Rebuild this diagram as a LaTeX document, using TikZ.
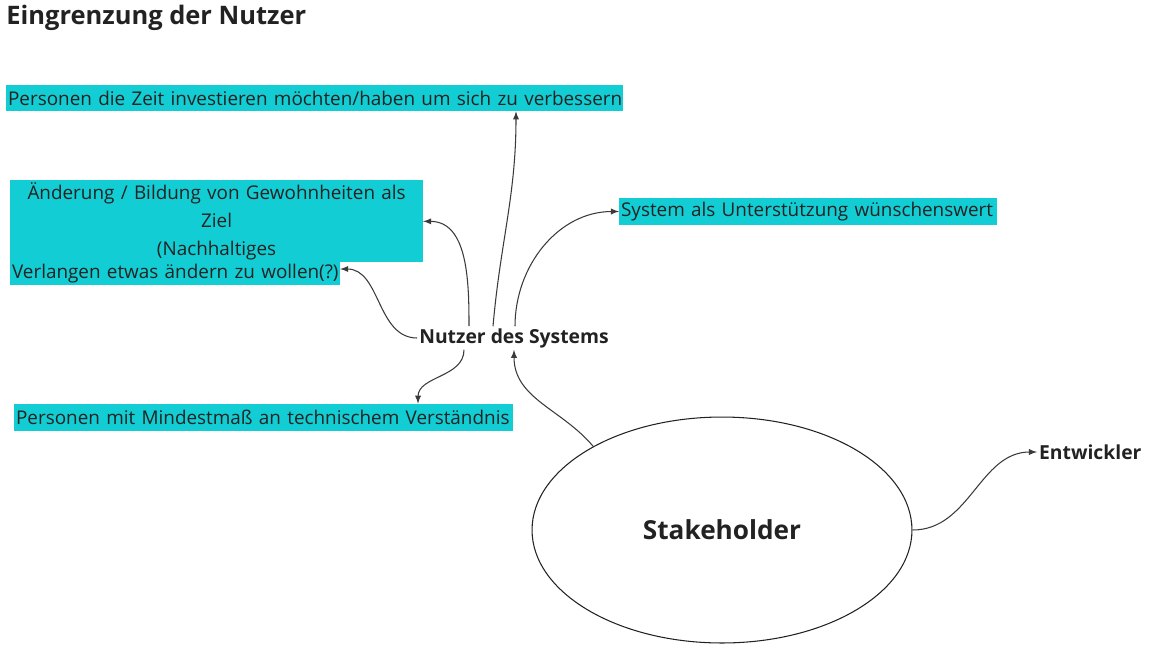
\documentclass[tikz,border=0pt]{standalone}
\usepackage{fontspec}
\setmainfont{Open Sans}
\usetikzlibrary{shapes.geometric}
\definecolor{tagcyan}{HTML}{12CDD4}
\definecolor{inkgray}{HTML}{222222}
\definecolor{linegray}{HTML}{3A3A3A}

\begin{document}
\begin{tikzpicture}[x=0.02cm, y=-0.02cm,
    tag/.style={fill=tagcyan, inner xsep=1pt, inner ysep=0pt, align=left, anchor=west,
      text=inkgray, font=\fontsize{10.75}{13}\selectfont},
    who/.style={text=inkgray, inner sep=1pt, font=\fontsize{11}{13}\selectfont\bfseries},
    link/.style={->, >=latex, draw=linegray, line width=0.6pt}]
  \useasboundingbox (0,0) rectangle (1154,654);

  \def \boxfont {\fontsize{10.75}{15.9}\selectfont}

  % title
  \node[anchor=west, inner sep=0pt, text=inkgray, font=\fontsize{14.5}{17}\selectfont\bfseries]
    (title) at (6,18) {Eingrenzung der Nutzer};

  % cyan notes
  \node[tag, text width=12.26cm, minimum height=0.52cm] (zeit) at (6,98)
    {\mbox{Personen die Zeit investieren möchten/haben um sich zu verbessern}};
  \node[tag, anchor=north west, align=center, text width=8.18cm, minimum height=1.64cm, font=\boxfont]
    (ziel) at (10,180) {Änderung / Bildung von Gewohnheiten als\\ Ziel\\ (Nachhaltiges};
  \node[tag, text width=6.52cm, minimum height=0.46cm] (verlangen) at (10,273.5)
    {\mbox{Verlangen etwas ändern zu wollen(?)}};
  \node[tag, text width=7.48cm, minimum height=0.54cm] (wunsch) at (619,211.5)
    {\mbox{System als Unterstützung wünschenswert}};
  \node[tag, text width=9.9cm, minimum height=0.54cm] (technik) at (14,417.5)
    {\mbox{Personen mit Mindestmaß an technischem Verständnis}};

  % people
  \node[who] (nutzer) at (514,338) {Nutzer des Systems};
  \node[ellipse, draw=inkgray, line width=0.6pt, minimum width=7.6cm, minimum height=4.52cm,
    text=inkgray, font=\fontsize{14.9}{17}\selectfont\bfseries] (stake) at (722,530) {Stakeholder};
  \node[who, anchor=west] (dev) at (1037,452) {Entwickler};

  % connectors
  \draw[link] ([xshift=-0.42cm]nutzer.north) to[out=85, in=-90] ([xshift=4.03cm]zeit.south);
  \draw[link] ([xshift=-0.9cm]nutzer.north) to[out=90, in=0] (ziel.east);
  \draw[link] (nutzer.west) to[out=180, in=0] ([yshift=0.09cm]verlangen.east);
  \draw[link] ([xshift=0.02cm]nutzer.north) to[out=90, in=180] (wunsch.west);
  \draw[link] ([xshift=-1cm]nutzer.south) to[out=-90, in=90] ([xshift=3.09cm]technik.north);
  \draw[link] (stake.147) to[out=130, in=-90] (nutzer.south);
  \draw[link] (stake.east) to[out=0, in=180] (dev.west);
\end{tikzpicture}
\end{document}
